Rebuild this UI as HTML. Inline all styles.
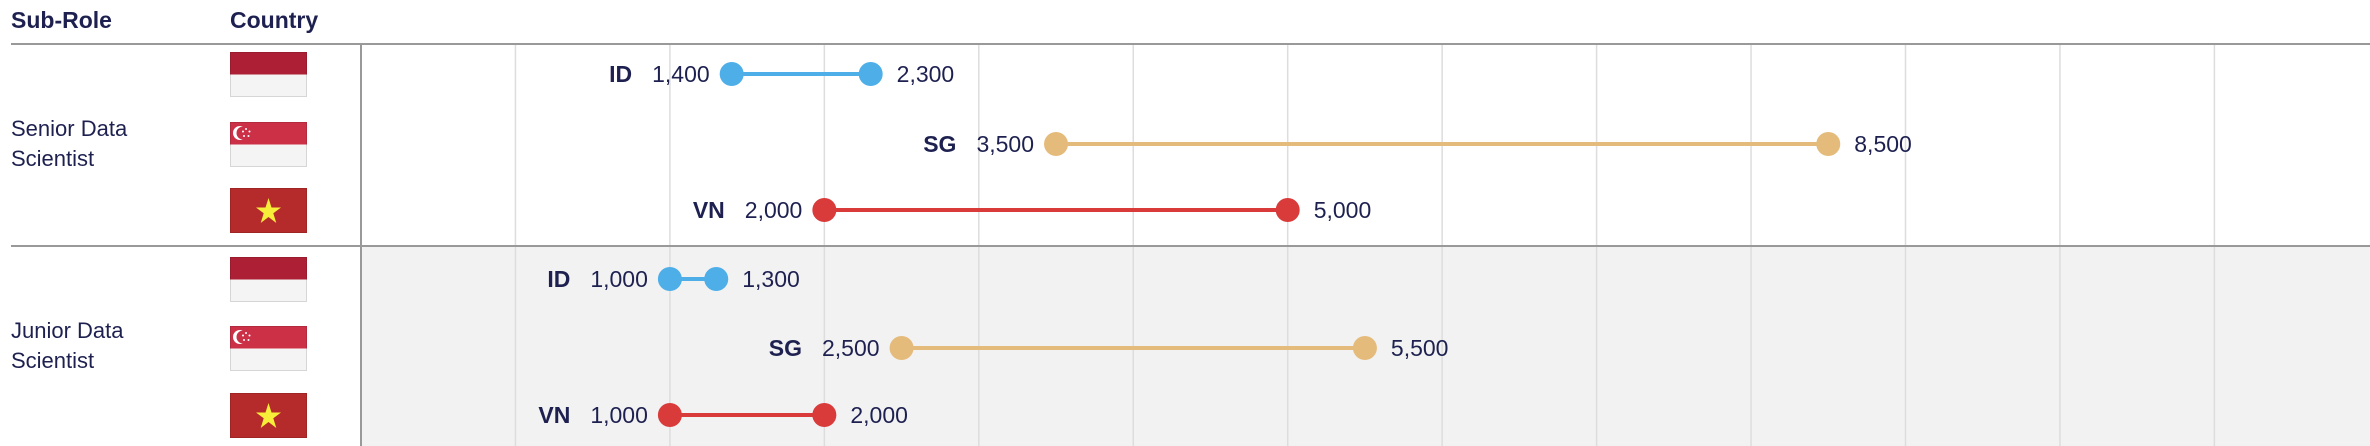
<!DOCTYPE html>
<html><head><meta charset="utf-8"><style>
html,body{margin:0;padding:0;background:#fff;}
svg{display:block;font-family:"Liberation Sans",sans-serif;}
</style></head><body>
<svg id="chart" width="2370" height="446" viewBox="0 0 2370 446" xmlns="http://www.w3.org/2000/svg">
<rect x="361" y="246" width="2009" height="200" fill="#f2f2f2"/>
<g id="grid"></g>
<text x="11" y="28" font-size="23" font-weight="bold" fill="#1e2150">Sub-Role</text>
<text x="230" y="28" font-size="23" font-weight="bold" fill="#1e2150">Country</text>
<line x1="11" y1="44" x2="2370" y2="44" stroke="#999" stroke-width="2"/>
<line x1="11" y1="246" x2="2370" y2="246" stroke="#999" stroke-width="2"/>
<line x1="361" y1="44" x2="361" y2="446" stroke="#999" stroke-width="2"/>
<text x="11" y="136" font-size="22" fill="#1e2150">Senior Data<tspan x="11" dy="30">Scientist</tspan></text>
<text x="11" y="338" font-size="22" fill="#1e2150">Junior Data<tspan x="11" dy="30">Scientist</tspan></text>
<g id="flags"></g>
<g id="marks"></g>
</svg>
<script>
const countries = ["ID","SG","VN","ID","SG","VN"];
const minValues = [1400,3500,2000,1000,2500,1000];
const maxValues = [2300,8500,5000,1300,5500,2000];
const gridTicks = [0,1000,2000,3000,4000,5000,6000,7000,8000,9000,10000,11000];
const colors = {ID:"#4daee8", SG:"#e5bb7c", VN:"#d93a3a"};
const rowCenters = [74,144,210,279,348,415];
const NS = "http://www.w3.org/2000/svg";
function x(v){ return 361 + (v + 1000) * 0.15445; }
function mk(tag, attrs, parent){ const e=document.createElementNS(NS,tag); for(const k in attrs) e.setAttribute(k,attrs[k]); parent.appendChild(e); return e; }
const grid=document.getElementById('grid');
gridTicks.forEach(t=>{
  const l=mk('line',{x1:x(t),x2:x(t),y1:44,y2:446,stroke:'#dddddd','stroke-width':1.5},grid);
  
  
});
const flags=document.getElementById('flags');
countries.forEach((c,i)=>{
  const g=mk('g',{transform:`translate(230,${rowCenters[i]-22})`},flags);
  
  
  if(c==='ID'){
    mk('rect',{x:0,y:0,width:77,height:45,fill:'#f4f4f4'},g);
    mk('rect',{x:0,y:0,width:77,height:22.5,fill:'#ad1f35'},g);
  } else if(c==='SG'){
    mk('rect',{x:0,y:0,width:77,height:45,fill:'#f4f4f4'},g);
    mk('rect',{x:0,y:0,width:77,height:22.5,fill:'#cb3047'},g);
    mk('circle',{cx:10,cy:11,r:7,fill:'#fff'},g);
    mk('circle',{cx:13,cy:11,r:6.5,fill:'#cb3047'},g);
    [[16,7],[19.5,9.5],[18.5,14],[14,14],[13,9.5]].forEach(p=>mk('circle',{cx:p[0],cy:p[1],r:1,fill:'#fff'},g));
  } else {
    mk('rect',{x:0,y:0,width:77,height:45,fill:'#b52a2a'},g);
    mk('polygon',{points:'38.5,10 41.5,19.5 51,19.5 43.3,25.3 46.3,35 38.5,29 30.7,35 33.7,25.3 26,19.5 35.5,19.5',fill:'#f7ee3a'},g);
  }
  mk('rect',{x:0.5,y:0.5,width:76,height:44,fill:'none',stroke:'rgba(0,0,0,0.12)','stroke-width':1},g);
});
const marks=document.getElementById('marks');
countries.forEach((c,i)=>{
  const y=rowCenters[i], x1=x(minValues[i]), x2=x(maxValues[i]), col=colors[c];
  const l=mk('line',{x1:x1,x2:x2,y1:y,y2:y,stroke:col,'stroke-width':4},marks);
  
  
  const d1=mk('circle',{cx:x1,cy:y,r:12,fill:col},marks);
  
  
  const d2=mk('circle',{cx:x2,cy:y,r:12,fill:col},marks);
  
  
  const t1=mk('text',{x:x1-22,y:y+8,'font-size':23,fill:'#1e2150','text-anchor':'end'},marks);
  t1.textContent=minValues[i].toLocaleString('en-US');
  
  
  const w=t1.getComputedTextLength();
  const t0=mk('text',{x:x1-22-w-20,y:y+8,'font-size':23,'font-weight':'bold',fill:'#1e2150','text-anchor':'end'},marks);
  t0.textContent=c;
  
  
  const t2=mk('text',{x:x2+26,y:y+8,'font-size':23,fill:'#1e2150'},marks);
  t2.textContent=maxValues[i].toLocaleString('en-US');
  
  
});
</script>
</body></html>
